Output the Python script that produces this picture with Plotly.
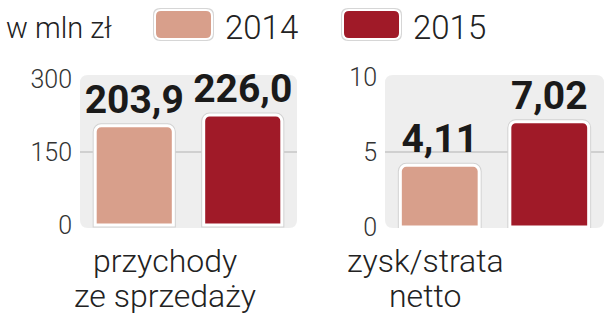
import plotly.graph_objects as go

years = ["2014", "2015"]
revenue = [203.9, 226.0]
profit = [4.11, 7.02]
revenue_labels = ["203,9", "226,0"]
profit_labels = ["4,11", "7,02"]
revenue_ticks = [0, 150, 300]
profit_ticks = [0, 5, 10]
revenue_grid = 150
profit_grid = 5
category_lines = [["przychody", "ze sprzedaży"], ["zysk/strata", "netto"]]
unit = "w mln zł"
colors = ["#d89f8b", "#a01a28"]

W, H = 606, 319


def px(x):
    return x / W


def py(y):
    return 1 - y / H


def rrect(x0, y0, x1, y1, r):
    pts = [
        ("M", [(x0 + r, y0)]),
        ("L", [(x1 - r, y0)]),
        ("Q", [(x1, y0), (x1, y0 + r)]),
        ("L", [(x1, y1 - r)]),
        ("Q", [(x1, y1), (x1 - r, y1)]),
        ("L", [(x0 + r, y1)]),
        ("Q", [(x0, y1), (x0, y1 - r)]),
        ("L", [(x0, y0 + r)]),
        ("Q", [(x0, y0), (x0 + r, y0)]),
    ]
    s = ""
    for cmd, ps in pts:
        s += cmd + " " + " ".join(f"{px(a):.5f},{py(b):.5f}" for a, b in ps) + " "
    return s + "Z"


LIGHT = "Roboto, 'Open Sans', sans-serif"
BOLD = "Roboto, 'Liberation Sans', sans-serif"

fig = go.Figure()
shadow_common = dict(
    marker=dict(color="#d2d2d2", line=dict(color="#d2d2d2", width=5)),
    hoverinfo="skip", showlegend=False,
)
bar_common = dict(
    marker=dict(color=colors, line=dict(color="white", width=3)),
    textposition="outside",
    textangle=0,
    constraintext="none",
    cliponaxis=False,
    textfont=dict(family=BOLD, size=39, color="#1a1a1a", weight="bold"),
    hoverinfo="skip",
    showlegend=False,
)
fig.add_trace(go.Bar(x=years, y=revenue, xaxis="x", yaxis="y", **shadow_common))
fig.add_trace(go.Bar(x=years, y=revenue, text=revenue_labels, xaxis="x", yaxis="y", **bar_common))
fig.add_trace(go.Bar(x=years, y=profit, xaxis="x2", yaxis="y2", **shadow_common))
fig.add_trace(go.Bar(x=years, y=profit, text=profit_labels, xaxis="x2", yaxis="y2", **bar_common))

ydom = [py(228), py(75)]
yfont = dict(family=LIGHT, size=25, color="#333333", weight=300)
axis_y_common = dict(
    domain=ydom, showgrid=False, zeroline=False, showline=False,
    ticks="outside", ticklen=2, tickcolor="rgba(0,0,0,0)", tickfont=yfont,
)
fig.update_layout(
    width=W, height=H,
    margin=dict(l=0, r=0, t=0, b=0, autoexpand=False),
    paper_bgcolor="white", plot_bgcolor="rgba(0,0,0,0)",
    barmode="overlay",
    bargap=0.28, barcornerradius=6,
    xaxis=dict(domain=[px(80), px(297)], range=[-0.5, 1.5], visible=False, anchor="y"),
    xaxis2=dict(domain=[px(385), px(604)], range=[-0.5, 1.5], visible=False, anchor="y2"),
    yaxis=dict(range=[-6.16, 308.2], tickvals=revenue_ticks, anchor="x", **axis_y_common),
    yaxis2=dict(range=[-0.067, 10.13], tickvals=profit_ticks, anchor="x2", **axis_y_common),
)

shapes = []
for x0, x1 in [(80, 297), (385, 604)]:
    shapes.append(dict(type="path", path=rrect(x0, 75, x1, 228, 8), xref="paper", yref="paper",
                       fillcolor="#eeeeee", line=dict(width=0), layer="below"))
shapes.append(dict(type="line", xref="paper", yref="y", x0=px(80), x1=px(297), y0=revenue_grid, y1=revenue_grid,
                   line=dict(color="#c6c6c6", width=1.5), layer="below"))
shapes.append(dict(type="line", xref="paper", yref="y2", x0=px(385), x1=px(604), y0=profit_grid, y1=profit_grid,
                   line=dict(color="#c6c6c6", width=1.5), layer="below"))
legend_x = [155, 343]
for lx, c in zip(legend_x, colors):
    shapes.append(dict(type="path", path=rrect(lx - 2, 8, lx + 59, 41, 7), xref="paper", yref="paper",
                       fillcolor="#d6d6d6", line=dict(width=0)))
    shapes.append(dict(type="path", path=rrect(lx, 10, lx + 57, 39, 6), xref="paper", yref="paper",
                       fillcolor=c, line=dict(color="white", width=2)))
fig.update_layout(shapes=shapes)

ann = []
ann.append(dict(text=unit, x=px(4), y=py(28), xref="paper", yref="paper", xanchor="left", yanchor="middle",
                showarrow=False, font=dict(family=LIGHT, size=29, color="#222222", weight=300)))
for lx, yr in zip(legend_x, years):
    ann.append(dict(text=yr, x=px(lx + 68), y=py(27), xref="paper", yref="paper", xanchor="left", yanchor="middle",
                    showarrow=False, font=dict(family=LIGHT, size=33, color="#222222", weight=300)))
for cx, lines in zip([165, 425], category_lines):
    for i, line in enumerate(lines):
        ann.append(dict(text=line, x=px(cx), y=py(261 + 35 * i), xref="paper", yref="paper",
                        xanchor="center", yanchor="middle", showarrow=False,
                        font=dict(family=LIGHT, size=32, color="#222222", weight=300)))
fig.update_layout(annotations=ann)

fig.write_html("out.html")
